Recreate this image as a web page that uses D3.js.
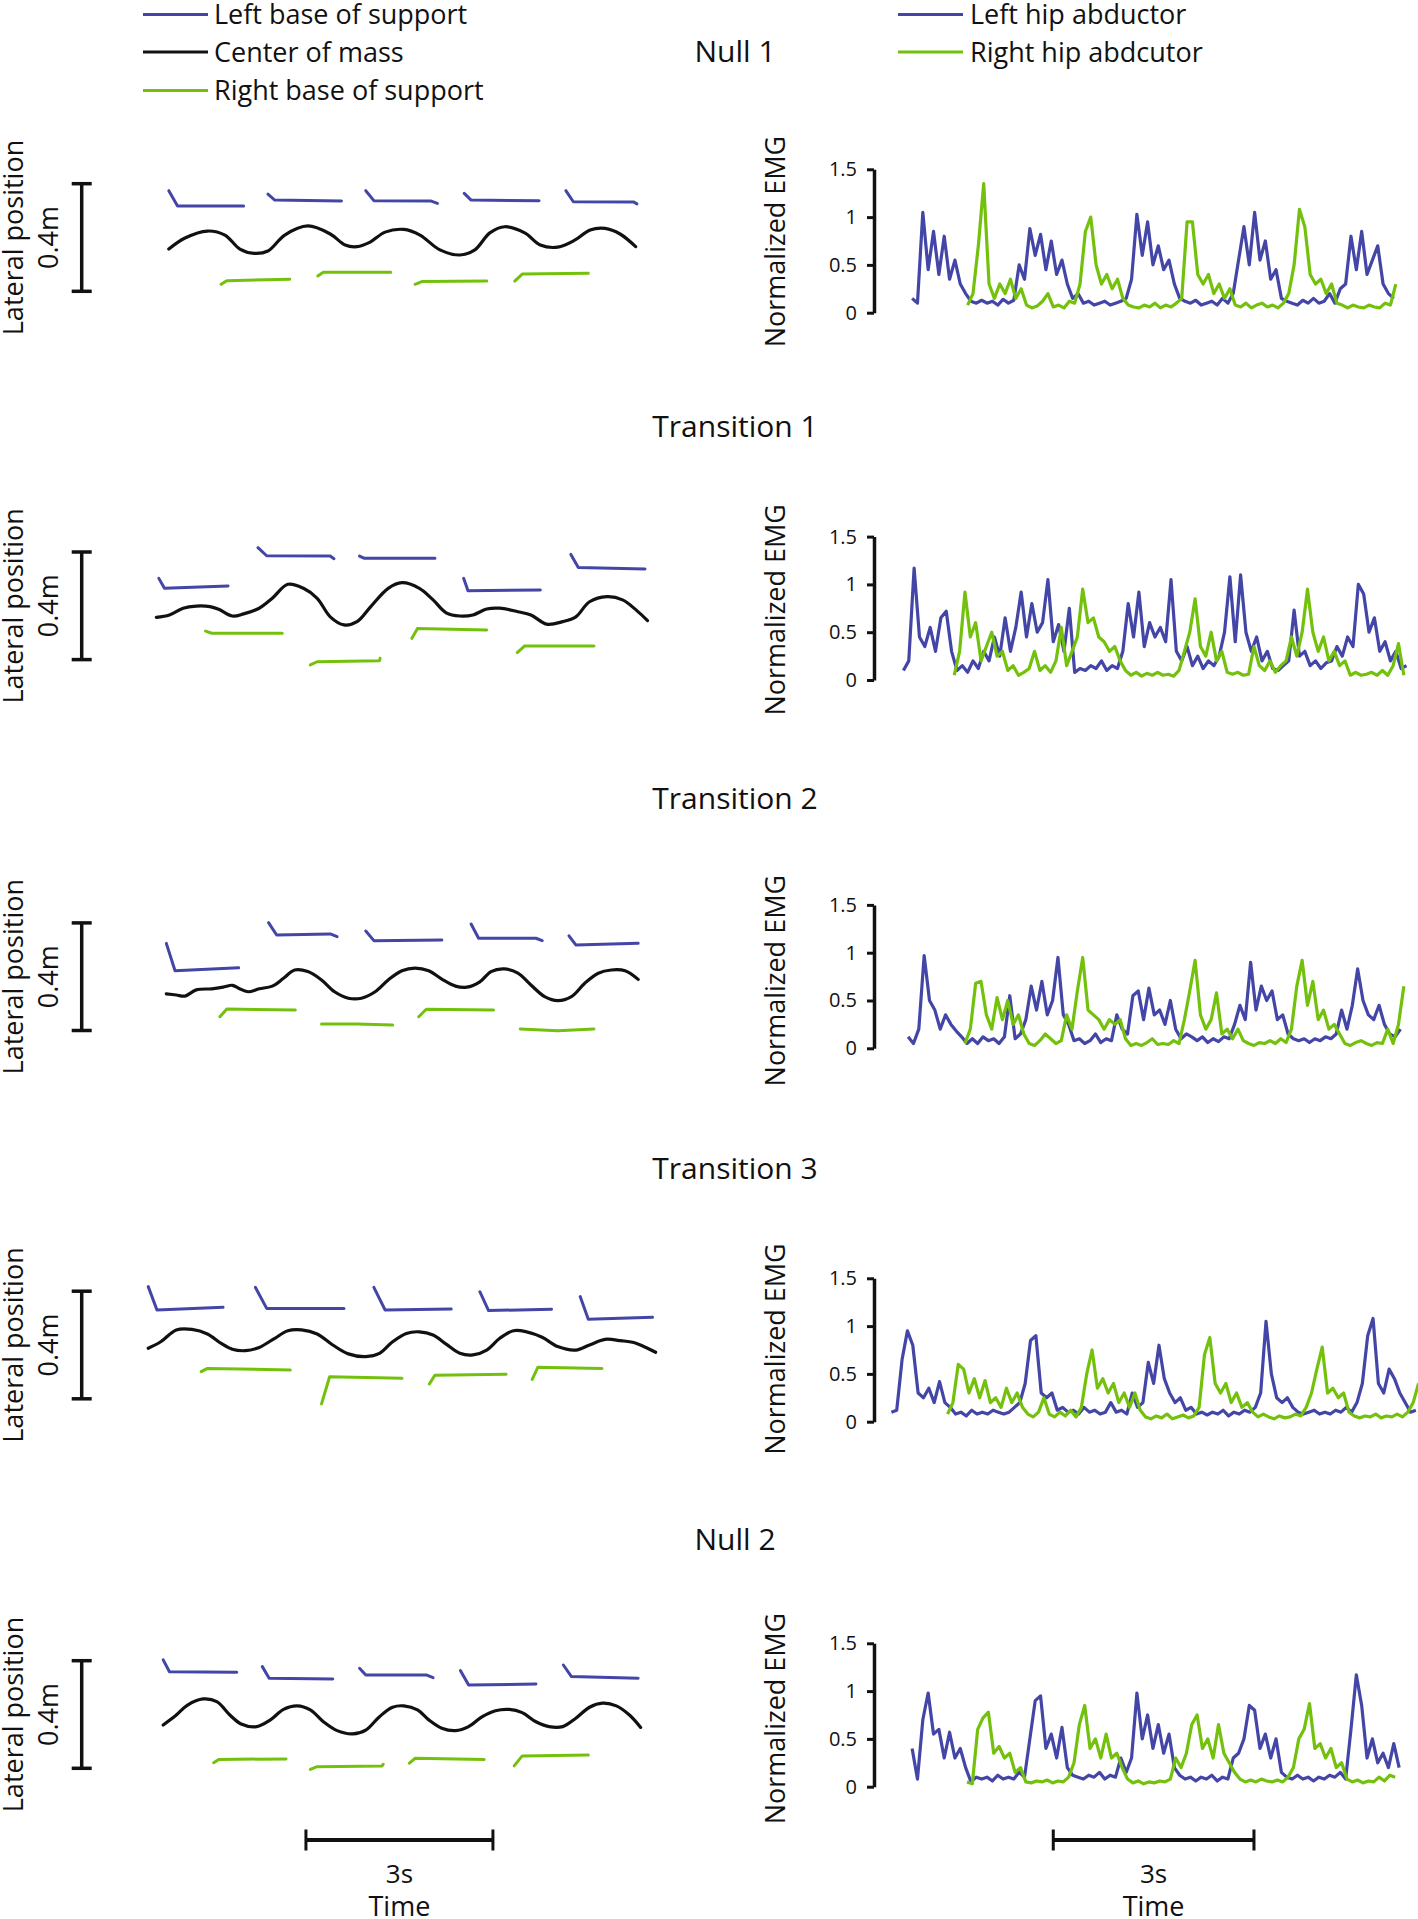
<!DOCTYPE html>
<html><head><meta charset="utf-8">
<script src="https://cdn.jsdelivr.net/npm/d3@7"></script>
<style>
body{margin:0;background:#fff}
svg{display:block}
text{font-family:"Open Sans",sans-serif;fill:#111}
</style>
</head><body>
<svg id="c" width="1418" height="1919"></svg>
<script>
// ---------------- DATA ----------------
const rowTitles = ["Null 1", "Transition 1", "Transition  2", "Transition 3", "Null 2"];
const legendLeft = ["Left base of support", "Center of mass", "Right base of support"];
const legendRight = ["Left hip abductor", "Right hip abdcutor"];
const emgTicks = [0, 0.5, 1, 1.5];
const latBarCm = 40;          // 0.4 m scale bar
const latBarLabel = "0.4m";
const timeBarSeconds = 3;
const timeBarLabel = "3s";

// Centre of mass: [time s, lateral position cm]
const com1 = [[0.35,-4.3],[0.61,-0.2],[0.97,2.4],[1.25,0.9],[1.49,-4.3],[1.72,-5.9],[1.94,-5.0],[2.21,0.9],[2.58,4.3],[2.94,1.3],[3.18,-2.8],[3.37,-3.4],[3.58,-1.7],[3.82,2.0],[4.12,3.0],[4.38,0.9],[4.70,-4.6],[5.02,-6.5],[5.26,-4.6],[5.50,1.7],[5.74,4.0],[6.06,1.7],[6.31,-2.8],[6.59,-3.6],[6.87,-0.9],[7.11,2.8],[7.35,3.4],[7.59,1.3],[7.84,-3.4]];
const com2 = [[0.15,-4.3],[0.36,-3.4],[0.58,-0.9],[0.79,-0.1],[1.01,-0.3],[1.15,-1.3],[1.37,-3.8],[1.55,-3.0],[1.80,-0.9],[2.01,2.8],[2.26,8.0],[2.51,6.5],[2.73,2.8],[2.94,-4.1],[3.16,-7.1],[3.37,-5.9],[3.59,-0.3],[3.87,6.5],[4.09,8.6],[4.37,6.5],[4.59,2.2],[4.80,-2.6],[5.02,-3.8],[5.23,-3.4],[5.45,-1.2],[5.66,-0.9],[5.95,-2.2],[6.16,-3.4],[6.41,-6.8],[6.67,-5.9],[6.88,-4.1],[7.10,1.5],[7.38,3.4],[7.63,2.2],[7.85,-1.6],[8.03,-5.5]];
const com3 = [[0.31,-6.4],[0.47,-6.8],[0.61,-7.2],[0.79,-4.9],[1.04,-4.5],[1.22,-3.9],[1.37,-3.2],[1.47,-4.3],[1.62,-5.6],[1.80,-4.5],[2.01,-3.5],[2.19,-0.6],[2.37,2.5],[2.58,1.9],[2.80,-1.2],[3.01,-5.6],[3.23,-8.0],[3.44,-8.0],[3.66,-5.6],[3.87,-1.2],[4.09,2.2],[4.30,3.2],[4.52,2.2],[4.73,-0.9],[4.95,-3.5],[5.13,-3.9],[5.34,-1.9],[5.52,1.9],[5.73,2.9],[5.95,1.3],[6.16,-3.1],[6.38,-7.4],[6.59,-8.9],[6.81,-7.4],[7.02,-2.5],[7.24,1.3],[7.45,2.5],[7.67,2.2],[7.88,-1.0]];
const com4 = [[0.02,-1.2],[0.22,1.2],[0.47,5.6],[0.72,5.8],[0.97,4.1],[1.19,0.6],[1.37,-1.6],[1.58,-2.1],[1.80,-0.9],[2.05,2.5],[2.26,5.3],[2.48,5.6],[2.73,4.1],[2.98,0],[3.23,-3.3],[3.51,-4.3],[3.73,-3.1],[3.94,1.2],[4.16,4.3],[4.37,4.9],[4.59,3.7],[4.80,0.3],[5.02,-3.1],[5.23,-3.7],[5.45,-1.9],[5.66,2.5],[5.88,5.3],[6.09,4.9],[6.34,2.9],[6.59,-0.6],[6.88,-1.9],[7.10,0],[7.35,2.1],[7.60,1.6],[7.81,0.9],[8.03,-1.2],[8.16,-2.7]];
const com5 = [[0.26,-3.9],[0.47,-0.2],[0.65,3.5],[0.90,5.8],[1.12,4.8],[1.33,-0.2],[1.51,-3.5],[1.76,-4.5],[1.98,-2.0],[2.19,1.9],[2.41,3.2],[2.62,1.7],[2.83,-2.7],[3.05,-6.0],[3.30,-7.2],[3.51,-5.8],[3.73,-0.8],[3.94,2.7],[4.12,3.2],[4.34,1.7],[4.52,-2.0],[4.73,-5.1],[4.95,-6.0],[5.16,-4.5],[5.38,-0.8],[5.59,1.4],[5.81,1.9],[6.02,0.7],[6.24,-2.7],[6.45,-4.5],[6.67,-4.5],[6.88,-1.4],[7.10,2.7],[7.31,4.2],[7.53,3.2],[7.74,-0.2],[7.92,-4.8]];

// Left base of support segments: [time s, lateral cm]
const lbos1 = [[[0.35,17.4],[0.49,11.7],[1.55,11.7]],[[1.94,16.1],[2.05,13.9],[3.12,13.6]],[[3.51,17.4],[3.64,13.7],[4.55,13.6],[4.66,12.7]],[[5.09,16.4],[5.20,13.9],[6.29,13.7]],[[6.72,17.4],[6.84,13.3],[7.81,13.2],[7.86,12.5]]];
const lbos2 = [[[0.19,10.2],[0.28,6.5],[1.30,7.4]],[[1.78,21.6],[1.92,18.6],[2.94,18.5],[3.00,17.5]],[[3.41,18.5],[3.48,17.7],[4.62,17.7]],[[5.08,10.2],[5.15,5.6],[6.31,5.9]],[[6.80,19.1],[6.92,14.2],[7.99,13.7]]];
const lbos3 = [[[0.31,12.4],[0.45,2.2],[1.47,3.3]],[[1.95,20.1],[2.08,15.5],[2.94,15.9],[3.05,14.9]],[[3.51,17.0],[3.64,13.4],[4.73,13.6]],[[5.20,19.6],[5.32,14.3],[6.24,14.3],[6.34,13.4]],[[6.77,15.2],[6.88,11.8],[7.88,12.4]]];
const lbos4 = [[[0.02,21.7],[0.16,13.0],[1.22,14.0]],[[1.74,21.4],[1.92,13.6],[3.16,13.6]],[[3.64,21.4],[3.82,13.0],[4.88,13.4]],[[5.34,19.8],[5.48,12.8],[6.49,13.3]],[[6.95,18.0],[7.08,9.6],[8.11,10.3]]];
const lbos5 = [[[0.26,20.3],[0.36,15.9],[1.44,15.7]],[[1.85,17.8],[1.96,13.5],[2.98,13.2]],[[3.41,17.2],[3.51,14.7],[4.48,14.7],[4.59,13.7]],[[5.03,16.3],[5.16,11.0],[6.24,11.3]],[[6.68,18.4],[6.81,14.1],[7.88,13.5]]];

// Right base of support segments
const rbos1 = [[[1.19,-17.4],[1.28,-16.1],[2.29,-15.5]],[[2.74,-14.3],[2.83,-12.9],[3.91,-12.9]],[[4.30,-17.4],[4.41,-16.4],[5.45,-16.2]],[[5.90,-16.2],[6.02,-13.6],[7.08,-13.3]]];
const rbos2 = [[[0.94,-9.4],[1.04,-10.2],[2.17,-10.2]],[[2.62,-22.0],[2.73,-20.8],[3.73,-20.4],[3.74,-19.5]],[[4.25,-12.1],[4.34,-8.4],[5.45,-9.0]],[[5.94,-17.4],[6.06,-14.9],[7.17,-14.9]]];
const rbos3 = [[[1.17,-14.9],[1.28,-12.0],[2.38,-12.4]],[[2.80,-17.6],[3.37,-17.6],[3.94,-18.0]],[[4.36,-14.9],[4.48,-12.1],[5.56,-12.4]],[[5.99,-19.4],[6.59,-20.1],[7.17,-19.4]]];
const rbos4 = [[[0.87,-9.9],[0.97,-8.7],[2.30,-9.3]],[[2.80,-21.9],[2.93,-11.8],[4.09,-12.4]],[[4.53,-14.5],[4.62,-11.2],[5.76,-10.9]],[[6.18,-12.8],[6.27,-8.3],[7.30,-8.7]]];
const rbos5 = [[[1.07,-17.9],[1.15,-16.7],[2.23,-16.5]],[[2.62,-20.4],[2.73,-19.4],[3.77,-19.1],[3.79,-18.5]],[[4.21,-18.1],[4.30,-16.3],[5.41,-16.7]],[[5.89,-19.1],[6.02,-15.4],[7.08,-15.1]]];

// EMG (normalized), sampled every emgDt seconds from the start times below
const emgDt = 0.08;
const emgLeftStart = [0.48, 0.35, 0.42, 0.17, 0.48];
const emgRightStart = [1.31, 1.11, 1.27, 1.01, 1.30];
const emgL1 = [0.15,0.1,1.05,0.45,0.85,0.4,0.8,0.35,0.55,0.3,0.2,0.12,0.1,0.13,0.1,0.12,0.08,0.14,0.1,0.13,0.5,0.35,0.88,0.6,0.82,0.45,0.75,0.4,0.55,0.3,0.15,0.2,0.1,0.12,0.08,0.1,0.12,0.08,0.1,0.12,0.15,0.35,1.03,0.6,0.95,0.5,0.7,0.45,0.55,0.3,0.15,0.12,0.1,0.13,0.08,0.1,0.12,0.08,0.15,0.1,0.2,0.55,0.9,0.5,1.05,0.55,0.75,0.35,0.45,0.15,0.12,0.1,0.08,0.13,0.1,0.15,0.1,0.12,0.2,0.1,0.25,0.3,0.8,0.45,0.85,0.4,0.55,0.7,0.3,0.2,0.15];
const emgR1 = [0.08,0.2,0.7,1.35,0.3,0.15,0.3,0.2,0.35,0.15,0.25,0.08,0.05,0.07,0.12,0.2,0.06,0.08,0.05,0.12,0.1,0.3,0.85,1.0,0.5,0.3,0.4,0.25,0.35,0.15,0.08,0.06,0.05,0.08,0.06,0.1,0.05,0.08,0.06,0.1,0.15,0.95,0.95,0.4,0.3,0.4,0.2,0.3,0.15,0.25,0.08,0.06,0.1,0.05,0.08,0.1,0.06,0.08,0.05,0.1,0.2,0.5,1.08,0.9,0.4,0.3,0.35,0.2,0.3,0.1,0.08,0.05,0.08,0.06,0.05,0.08,0.06,0.05,0.1,0.08,0.3];
const emgL2 = [0.1,0.2,1.17,0.45,0.35,0.55,0.3,0.65,0.72,0.3,0.1,0.15,0.08,0.2,0.12,0.3,0.2,0.45,0.25,0.65,0.3,0.55,0.92,0.45,0.8,0.5,0.6,1.05,0.4,0.58,0.3,0.75,0.08,0.12,0.1,0.15,0.12,0.2,0.1,0.15,0.12,0.3,0.8,0.45,0.92,0.35,0.6,0.45,0.55,0.4,1.05,0.3,0.2,0.35,0.15,0.25,0.12,0.2,0.15,0.25,0.5,1.08,0.4,1.1,0.5,0.3,0.45,0.2,0.3,0.12,0.1,0.15,0.2,0.73,0.25,0.3,0.15,0.2,0.12,0.18,0.2,0.35,0.25,0.45,0.35,1.0,0.9,0.5,0.65,0.3,0.4,0.2,0.3,0.12,0.15];
const emgR2 = [0.05,0.3,0.92,0.45,0.6,0.2,0.35,0.5,0.25,0.3,0.1,0.15,0.05,0.08,0.12,0.3,0.1,0.15,0.08,0.2,0.55,0.15,0.3,0.45,0.95,0.6,0.65,0.45,0.4,0.3,0.35,0.2,0.1,0.05,0.08,0.04,0.07,0.05,0.08,0.05,0.06,0.04,0.1,0.3,0.5,0.85,0.35,0.25,0.5,0.2,0.3,0.08,0.06,0.08,0.05,0.06,0.35,0.15,0.1,0.2,0.08,0.15,0.2,0.45,0.25,0.5,0.95,0.5,0.3,0.45,0.2,0.3,0.15,0.2,0.05,0.08,0.05,0.06,0.08,0.05,0.1,0.05,0.15,0.38,0.05];
const emgL3 = [0.12,0.05,0.2,0.97,0.5,0.4,0.2,0.35,0.25,0.18,0.12,0.05,0.1,0.05,0.12,0.08,0.1,0.05,0.12,0.55,0.1,0.15,0.3,0.65,0.4,0.7,0.35,0.5,0.95,0.35,0.25,0.08,0.1,0.05,0.08,0.15,0.06,0.1,0.08,0.35,0.2,0.15,0.55,0.6,0.3,0.63,0.35,0.4,0.25,0.5,0.2,0.1,0.15,0.12,0.08,0.12,0.06,0.1,0.07,0.12,0.1,0.25,0.45,0.3,0.9,0.4,0.65,0.5,0.6,0.3,0.35,0.15,0.1,0.08,0.1,0.06,0.1,0.08,0.12,0.1,0.15,0.4,0.2,0.45,0.83,0.5,0.35,0.3,0.45,0.25,0.15,0.12,0.2];
const emgR3 = [0.05,0.2,0.68,0.7,0.35,0.2,0.53,0.3,0.5,0.25,0.35,0.15,0.05,0.03,0.08,0.15,0.1,0.05,0.08,0.35,0.2,0.6,0.95,0.4,0.35,0.3,0.2,0.3,0.25,0.3,0.1,0.03,0.05,0.03,0.06,0.1,0.04,0.05,0.04,0.08,0.05,0.3,0.6,0.92,0.35,0.2,0.3,0.58,0.15,0.2,0.1,0.2,0.08,0.05,0.03,0.06,0.05,0.08,0.05,0.1,0.06,0.2,0.65,0.92,0.45,0.7,0.3,0.4,0.2,0.25,0.15,0.05,0.03,0.06,0.08,0.05,0.03,0.06,0.05,0.2,0.05,0.25,0.65];
const emgL4 = [0.1,0.12,0.65,0.95,0.8,0.3,0.25,0.35,0.2,0.42,0.2,0.15,0.08,0.1,0.06,0.12,0.08,0.1,0.08,0.12,0.1,0.08,0.1,0.15,0.2,0.4,0.85,0.9,0.3,0.25,0.3,0.12,0.15,0.1,0.12,0.08,0.15,0.1,0.12,0.08,0.1,0.2,0.1,0.12,0.08,0.3,0.15,0.2,0.62,0.4,0.8,0.45,0.3,0.2,0.25,0.12,0.15,0.08,0.1,0.07,0.1,0.08,0.12,0.06,0.1,0.08,0.12,0.1,0.15,0.3,1.05,0.5,0.25,0.2,0.25,0.15,0.1,0.08,0.1,0.12,0.08,0.1,0.08,0.12,0.1,0.15,0.1,0.2,0.4,0.9,1.08,0.4,0.3,0.55,0.45,0.3,0.2,0.1,0.12];
const emgR4 = [0.08,0.2,0.6,0.55,0.3,0.45,0.25,0.43,0.2,0.25,0.15,0.35,0.2,0.3,0.15,0.08,0.05,0.1,0.25,0.08,0.05,0.1,0.06,0.12,0.05,0.15,0.5,0.75,0.35,0.45,0.3,0.4,0.2,0.3,0.15,0.3,0.12,0.05,0.03,0.06,0.04,0.08,0.03,0.05,0.07,0.04,0.06,0.15,0.7,0.88,0.4,0.3,0.4,0.2,0.3,0.15,0.2,0.1,0.05,0.08,0.05,0.03,0.06,0.04,0.05,0.08,0.06,0.15,0.3,0.55,0.78,0.3,0.35,0.25,0.3,0.1,0.06,0.04,0.06,0.05,0.08,0.04,0.06,0.05,0.08,0.05,0.1,0.2,0.4];
const emgL5 = [0.4,0.08,0.7,0.98,0.55,0.6,0.3,0.57,0.3,0.4,0.2,0.05,0.1,0.08,0.1,0.06,0.12,0.08,0.1,0.08,0.15,0.1,0.5,0.9,0.95,0.4,0.55,0.3,0.62,0.2,0.12,0.1,0.08,0.12,0.1,0.15,0.08,0.12,0.1,0.3,0.15,0.3,0.98,0.5,0.75,0.4,0.65,0.35,0.55,0.2,0.12,0.08,0.1,0.06,0.1,0.08,0.12,0.06,0.1,0.08,0.3,0.35,0.5,0.85,0.8,0.4,0.55,0.3,0.5,0.15,0.1,0.08,0.12,0.08,0.1,0.06,0.1,0.08,0.12,0.1,0.15,0.08,0.6,1.17,0.85,0.3,0.5,0.25,0.35,0.2,0.45,0.2];
const emgR5 = [0.05,0.03,0.6,0.72,0.78,0.35,0.42,0.3,0.35,0.15,0.2,0.05,0.04,0.06,0.05,0.07,0.04,0.06,0.05,0.1,0.25,0.65,0.85,0.4,0.5,0.3,0.55,0.3,0.35,0.2,0.08,0.04,0.06,0.03,0.05,0.04,0.06,0.05,0.08,0.3,0.2,0.35,0.65,0.75,0.4,0.5,0.3,0.65,0.35,0.25,0.15,0.08,0.05,0.07,0.05,0.08,0.06,0.05,0.07,0.05,0.1,0.2,0.5,0.6,0.87,0.4,0.45,0.3,0.4,0.2,0.25,0.08,0.05,0.07,0.04,0.06,0.05,0.1,0.06,0.12,0.1];

// ---------------- LAYOUT / STYLE ----------------
const BLUE = "#4346a6", GREEN = "#73c10c", INK = "#111";
const rows = [
  {com: com1, lb: lbos1, rb: rbos1, el: emgL1, er: emgR1},
  {com: com2, lb: lbos2, rb: rbos2, el: emgL2, er: emgR2},
  {com: com3, lb: lbos3, rb: rbos3, el: emgL3, er: emgR3},
  {com: com4, lb: lbos4, rb: rbos4, el: emgL4, er: emgR4},
  {com: com5, lb: lbos5, rb: rbos5, el: emgL5, er: emgR5}
];
const rowCenter = [237.5, 605.8, 976.7, 1345, 1714.5];
const emgZero = [312.7, 680, 1048.3, 1421.7, 1786.7];
const titleY = [51.4, 425.8, 798, 1168, 1539];

const svg = d3.select("#c");
const xLat = d3.scaleLinear().domain([0, 8.5]).range([147, 676.8]);
const xEmg = d3.scaleLinear().domain([0, 8]).range([880, 1415.2]);

// legends
const legY = [14.5, 52, 90.5];
const legColL = [BLUE, INK, GREEN];
legendLeft.forEach((t, i) => {
  svg.append("line").attr("x1", 143).attr("x2", 208).attr("y1", legY[i]).attr("y2", legY[i])
    .attr("stroke", legColL[i]).attr("stroke-width", 3.2);
  svg.append("text").attr("x", 214).attr("y", legY[i]).attr("dy", "0.36em")
    .style("font-size", "27px").text(t);
});
const legColR = [BLUE, GREEN];
legendRight.forEach((t, i) => {
  svg.append("line").attr("x1", 898).attr("x2", 963).attr("y1", legY[i]).attr("y2", legY[i])
    .attr("stroke", legColR[i]).attr("stroke-width", 3.2);
  svg.append("text").attr("x", 970).attr("y", legY[i]).attr("dy", "0.36em")
    .style("font-size", "27px").text(t);
});

rows.forEach((r, i) => {
  const g = svg.append("g");
  const c = rowCenter[i];
  const yLat = d3.scaleLinear().domain([-latBarCm / 2, latBarCm / 2]).range([c + 53.8, c - 53.8]);
  const yEmg = d3.scaleLinear().domain([0, 1.5]).range([emgZero[i], emgZero[i] - 143.4]);

  // title
  g.append("text").attr("x", 735).attr("y", titleY[i]).attr("dy", "0.36em")
    .attr("text-anchor", "middle").style("font-size", "30px").text(rowTitles[i]);

  // lateral scale bar
  const bx = 81.7;
  const yb0 = yLat(-latBarCm / 2), yb1 = yLat(latBarCm / 2);
  g.append("line").attr("x1", bx).attr("x2", bx).attr("y1", yb0).attr("y2", yb1)
    .attr("stroke", INK).attr("stroke-width", 3.5);
  [yb0, yb1].forEach(y => g.append("line").attr("x1", bx - 10).attr("x2", bx + 10)
    .attr("y1", y).attr("y2", y).attr("stroke", INK).attr("stroke-width", 3.5));
  g.append("text").attr("transform", `translate(58,${c}) rotate(-90)`)
    .attr("text-anchor", "middle").style("font-size", "27px").text(latBarLabel);
  g.append("text").attr("transform", `translate(22.5,${c}) rotate(-90)`)
    .attr("text-anchor", "middle").style("font-size", "27px").text("Lateral position");

  // base of support and COM
  const segLine = d3.line().x(d => xLat(d[0])).y(d => yLat(d[1]));
  g.selectAll(null).data(r.lb).join("path").attr("d", segLine)
    .attr("fill", "none").attr("stroke", BLUE).attr("stroke-width", 3)
    .attr("stroke-linejoin", "round").attr("stroke-linecap", "round");
  g.selectAll(null).data(r.rb).join("path").attr("d", segLine)
    .attr("fill", "none").attr("stroke", GREEN).attr("stroke-width", 3)
    .attr("stroke-linejoin", "round").attr("stroke-linecap", "round");
  const comLine = d3.line().x(d => xLat(d[0])).y(d => yLat(d[1])).curve(d3.curveCatmullRom.alpha(0.5));
  g.append("path").attr("d", comLine(r.com)).attr("fill", "none")
    .attr("stroke", INK).attr("stroke-width", 3.2).attr("stroke-linecap", "round");

  // EMG axis
  const ax = d3.axisLeft(yEmg).tickValues(emgTicks).tickSize(7).tickSizeOuter(0)
    .tickPadding(10).tickFormat(d3.format("~g"));
  const ag = g.append("g").attr("transform", "translate(874,0)").call(ax);
  ag.select(".domain").attr("stroke", INK).attr("stroke-width", 3.5);
  ag.selectAll(".tick line").attr("stroke", INK).attr("stroke-width", 3);
  ag.selectAll(".tick text").attr("fill", INK).style("font-size", "20px")
    .style("font-family", "'Open Sans', sans-serif");
  g.append("text").attr("transform", `translate(785,${c + 4}) rotate(-90)`)
    .attr("text-anchor", "middle").style("font-size", "27px").text("Normalized EMG");

  // EMG traces
  const emgLine = (start) => d3.line().x((d, j) => xEmg(start + j * emgDt)).y(d => yEmg(d));
  g.append("path").attr("d", emgLine(emgLeftStart[i])(r.el)).attr("fill", "none")
    .attr("stroke", BLUE).attr("stroke-width", 3.2).attr("stroke-linejoin", "round");
  g.append("path").attr("d", emgLine(emgRightStart[i])(r.er)).attr("fill", "none")
    .attr("stroke", GREEN).attr("stroke-width", 3.2).attr("stroke-linejoin", "round");
});

// time scale bars
function timeBar(scale, t0) {
  const x0 = scale(t0), x1 = scale(t0 + timeBarSeconds), y = 1840;
  svg.append("line").attr("x1", x0).attr("x2", x1).attr("y1", y).attr("y2", y)
    .attr("stroke", INK).attr("stroke-width", 4);
  [x0, x1].forEach(x => svg.append("line").attr("x1", x).attr("x2", x)
    .attr("y1", y - 10.5).attr("y2", y + 10.5).attr("stroke", INK).attr("stroke-width", 3));
  svg.append("text").attr("x", (x0 + x1) / 2).attr("y", 1874).attr("dy", "0.36em")
    .attr("text-anchor", "middle").style("font-size", "26px").text(timeBarLabel);
  svg.append("text").attr("x", (x0 + x1) / 2).attr("y", 1906).attr("dy", "0.36em")
    .attr("text-anchor", "middle").style("font-size", "27px").text("Time");
}
timeBar(xLat, 2.55);
timeBar(xEmg, 2.59);
</script>
</body></html>
